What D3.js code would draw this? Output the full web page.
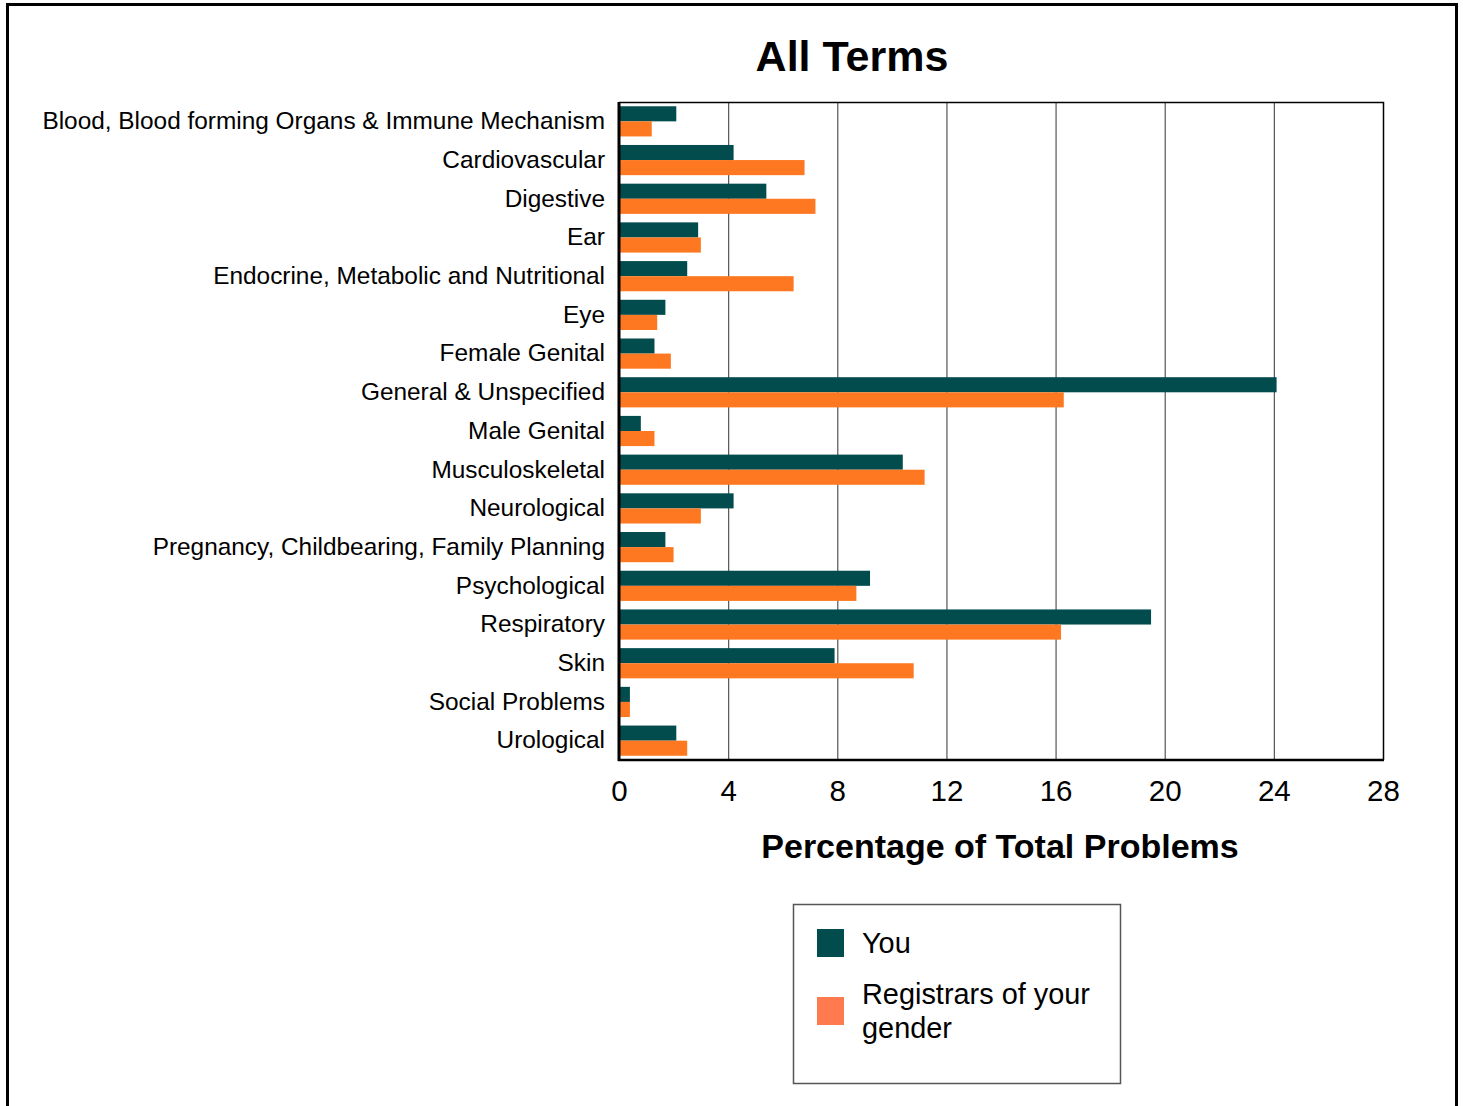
<!DOCTYPE html>
<html>
<head>
<meta charset="utf-8">
<script src="https://cdn.jsdelivr.net/npm/d3@7"></script>
<style>
  html, body { margin: 0; padding: 0; background: #fff; }
  svg { display: block; font-family: "Liberation Sans", Arial, sans-serif; }
</style>
</head>
<body>
<svg id="chart" width="1463" height="1106"></svg>
<script>
// Problem categories (top to bottom)
const categories = [
  "Blood, Blood forming Organs & Immune Mechanism",
  "Cardiovascular",
  "Digestive",
  "Ear",
  "Endocrine, Metabolic and Nutritional",
  "Eye",
  "Female Genital",
  "General & Unspecified",
  "Male Genital",
  "Musculoskeletal",
  "Neurological",
  "Pregnancy, Childbearing, Family Planning",
  "Psychological",
  "Respiratory",
  "Skin",
  "Social Problems",
  "Urological"
];

// Percentage of total problems
const youValues = [2.1, 4.2, 5.4, 2.9, 2.5, 1.7, 1.3, 24.1, 0.8, 10.4, 4.2, 1.7, 9.2, 19.5, 7.9, 0.4, 2.1];
const registrarValues = [1.2, 6.8, 7.2, 3.0, 6.4, 1.4, 1.9, 16.3, 1.3, 11.2, 3.0, 2.0, 8.7, 16.2, 10.8, 0.4, 2.5];

const seriesNames = ["You", "Registrars of your gender"];
const xTicks = [0, 4, 8, 12, 16, 20, 24, 28];

const svg = d3.select("#chart");

// outer frame (open at the bottom)
svg.append("path")
  .attr("d", "M7.5,1106 V4.5 H1456.5 V1106")
  .attr("fill", "none")
  .attr("stroke", "#000")
  .attr("stroke-width", 3);

const plot = { left: 619, right: 1383, top: 102, bottom: 760 };

const x = d3.scaleLinear().domain([0, 28]).range([plot.left, plot.right]);
const y = d3.scaleBand().domain(categories).range([plot.top, plot.bottom])
  .paddingInner(0.22).paddingOuter(0.11);
const sub = d3.scaleBand().domain(seriesNames).range([0, y.bandwidth()]);

const colors = { "You": "#034c4e", "Registrars of your gender": "#fd7820" };

// gridlines
svg.append("g").selectAll("line")
  .data(xTicks.slice(1, -1))
  .join("line")
  .attr("x1", d => x(d) + 0.5).attr("x2", d => x(d) + 0.5)
  .attr("y1", plot.top).attr("y2", plot.bottom)
  .attr("stroke", "#555")
  .attr("stroke-width", 1.2);

// plot frame: thin top/right
svg.append("path")
  .attr("d", `M${plot.left},${plot.top + 0.5} H${plot.right + 0.5} V${plot.bottom}`)
  .attr("fill", "none")
  .attr("stroke", "#000")
  .attr("stroke-width", 1.5);

// bars
const rows = categories.map((c, i) => ({ c, vals: [youValues[i], registrarValues[i]] }));
const groups = svg.append("g").selectAll("g")
  .data(rows)
  .join("g")
  .attr("transform", d => `translate(0,${y(d.c)})`);

groups.selectAll("rect")
  .data(d => d.vals.map((v, j) => ({ s: seriesNames[j], v })))
  .join("rect")
  .attr("x", x(0))
  .attr("y", d => sub(d.s))
  .attr("width", d => x(d.v) - x(0))
  .attr("height", sub.bandwidth())
  .attr("fill", d => colors[d.s]);

// axes lines (thick left and bottom)
svg.append("line")
  .attr("x1", plot.left).attr("x2", plot.left)
  .attr("y1", plot.top).attr("y2", plot.bottom + 1)
  .attr("stroke", "#000").attr("stroke-width", 3);
svg.append("line")
  .attr("x1", plot.left - 1).attr("x2", plot.right + 1)
  .attr("y1", plot.bottom).attr("y2", plot.bottom)
  .attr("stroke", "#000").attr("stroke-width", 2.5);

// category labels
const yAxis = d3.axisLeft(y).tickSize(0).tickPadding(14);
const yg = svg.append("g").attr("transform", `translate(${plot.left},0)`).call(yAxis);
yg.select(".domain").remove();
yg.selectAll("text")
  .attr("font-family", "'Liberation Sans', Arial, sans-serif")
  .attr("font-size", 24.4)
  .attr("fill", "#000");

// x tick labels
const xAxis = d3.axisBottom(x).tickValues(xTicks).tickSize(0).tickPadding(20).tickFormat(d3.format("d"));
const xg = svg.append("g").attr("transform", `translate(0,${plot.bottom})`).call(xAxis);
xg.select(".domain").remove();
xg.selectAll("text")
  .attr("font-family", "'Liberation Sans', Arial, sans-serif")
  .attr("font-size", 29.5)
  .attr("fill", "#000");

// title
svg.append("text")
  .attr("x", 852).attr("y", 71)
  .attr("text-anchor", "middle")
  .attr("font-size", 43).attr("font-weight", "bold")
  .text("All Terms");

// x axis title
svg.append("text")
  .attr("x", 1000).attr("y", 858)
  .attr("text-anchor", "middle")
  .attr("font-size", 34).attr("font-weight", "bold")
  .text("Percentage of Total Problems");

// legend
const legend = svg.append("g");
legend.append("rect")
  .attr("x", 793.5).attr("y", 904.5)
  .attr("width", 327).attr("height", 179)
  .attr("fill", "#fff")
  .attr("stroke", "#555").attr("stroke-width", 1.5);

const legendItems = [
  { name: seriesNames[0], color: colors["You"], sy: 929, lines: ["You"], ty: 953 },
  { name: seriesNames[1], color: "#ff7a4f", sy: 997, lines: ["Registrars of your", "gender"], ty: 1004 }
];
legendItems.forEach(it => {
  legend.append("rect")
    .attr("x", 817).attr("y", it.sy)
    .attr("width", 27).attr("height", 28)
    .attr("fill", it.color);
  const t = legend.append("text")
    .attr("x", 862).attr("y", it.ty)
    .attr("font-size", 28.9);
  it.lines.forEach((ln, k) => {
    t.append("tspan").attr("x", 862).attr("dy", k === 0 ? 0 : 34).text(ln);
  });
});
</script>
</body>
</html>
